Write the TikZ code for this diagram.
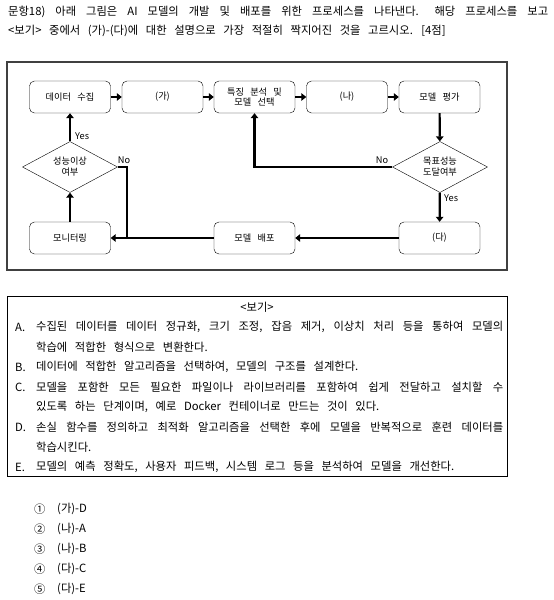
\documentclass[tikz,border=0pt]{standalone}
\usepackage{fontspec}
\setmainfont{Noto Sans CJK KR}[WordSpace=3.0]
\usetikzlibrary{positioning,shapes.geometric,arrows.meta}
\newcommand\bodyfont{\fontsize{11.3pt}{13pt}\selectfont}
\newcommand\boxfont{\fontsize{9.2pt}{11pt}\selectfont}

\begin{document}
\begin{tikzpicture}[x=1pt, y=-1pt,
  stage/.style={draw, rounded corners=5pt, align=center, font=\boxfont, minimum width=81pt, minimum height=32pt, inner sep=2pt},
  decision/.style={draw, diamond, aspect=1.86, align=center, font=\boxfont, minimum width=95pt, minimum height=51pt, inner sep=0pt},
  flow/.style={line width=2.2pt, -{Triangle[length=5pt, width=7.5pt]}},
  joinline/.style={line width=2.2pt},
  answer/.style={font=\boxfont, inner sep=1pt},
  txt/.style={font=\bodyfont, anchor=west, inner sep=0pt}
]
\useasboundingbox (0,0) rectangle (554,600);

% question
\node[txt] (q1) at (8,12) {\makebox[540pt][s]{문항18) 아래 그림은 AI 모델의 개발 및 배포를 위한 프로세스를 나타낸다. 해당 프로세스를 보고}};
\node[txt] (q2) at (8,31) {<보기> 중에서 (가)-(다)에 대한 설명으로 가장 적절히 짝지어진 것을 고르시오. [4점]};

% process diagram
\draw[black!75, line width=1.5pt] (7,62) rectangle (507,270);

\node[stage] (collect) at (70,97) {데이터 수집};
\node[stage] (ga) at (162.5,97) {(가)};
\node[stage] (feat) at (254.5,97) {특징 분석 및\\[-1pt]모델 선택};
\node[stage] (na) at (347,97) {(나)};
\node[stage] (eval) at (439.5,97) {모델 평가};

\node[decision] (check) at (70,167) {성능이상\\여부};
\node[decision] (goal) at (440,167) {목표성능\\도달여부};

\node[stage] (monitor) at (70,238) {모니터링};
\node[stage] (deploy) at (254.5,238) {모델 배포};
\node[stage] (da) at (439.5,238) {(다)};
\coordinate (join) at (127,238);

\draw[flow] (collect) -- (ga);
\draw[flow] (ga) -- (feat);
\draw[flow] (feat) -- (na);
\draw[flow] (na) -- (eval);
\draw[flow] (eval) -- (goal);
\draw[flow] (goal.west) -| (feat.south);
\draw[flow] (goal) -- (da);
\draw[flow] (da) -- (deploy);
\draw[flow] (deploy) -- (monitor);
\draw[flow] (monitor) -- (check);
\draw[flow] (check) -- (collect);
\draw[joinline] (check.east) -| (join);

\node[answer, anchor=south east] (noR) at ([xshift=-3pt,yshift=2pt]goal.west) {No};
\node[answer, anchor=north west] (yesR) at ([xshift=3pt,yshift=-1pt]goal.south) {Yes};
\node[answer, anchor=west] (yesL) at (74,136) {Yes};
\node[answer, anchor=south west] (noL) at ([xshift=-1pt,yshift=2pt]check.east) {No};

% <보기>
\draw[line width=0.8pt] (7,296) rectangle (507,476);
\node[font=\bodyfont, inner sep=0pt] (bogi) at (257,307) {<보기>};

\node[txt] (la) at (15,327) {A.};
\node[txt] (ta1) at (36,327) {\makebox[467pt][s]{수집된 데이터를 데이터 정규화, 크기 조정, 잡음 제거, 이상치 처리 등을 통하여 모델의}};
\node[txt] (ta2) at (36,347) {학습에 적합한 형식으로 변환한다.};
\node[txt] (lb) at (15,367) {B.};
\node[txt] (tb1) at (36,367) {데이터에 적합한 알고리즘을 선택하여, 모델의 구조를 설계한다.};
\node[txt] (lc) at (15,387) {C.};
\node[txt] (tc1) at (36,387) {\makebox[467pt][s]{모델을 포함한 모든 필요한 파일이나 라이브러리를 포함하여 쉽게 전달하고 설치할 수}};
\node[txt] (tc2) at (36,407) {있도록 하는 단계이며, 예로 Docker 컨테이너로 만드는 것이 있다.};
\node[txt] (ld) at (15,427) {D.};
\node[txt] (td1) at (36,427) {\makebox[467pt][s]{손실 함수를 정의하고 최적화 알고리즘을 선택한 후에 모델을 반복적으로 훈련 데이터를}};
\node[txt] (td2) at (36,447) {학습시킨다.};
\node[txt] (le) at (15,467) {E.};
\node[txt] (te1) at (36,467) {모델의 예측 정확도, 사용자 피드백, 시스템 로그 등을 분석하여 모델을 개선한다.};

% choices
\foreach \sym/\ans [count=\i] in {①/(가)-D, ②/(나)-A, ③/(나)-B, ④/(다)-C, ⑤/(다)-E} {
  \node[txt] (num\i) at (34,489+20*\i) {\sym};
  \node[txt] (opt\i) at (57,489+20*\i) {\ans};
}
\end{tikzpicture}
\end{document}
